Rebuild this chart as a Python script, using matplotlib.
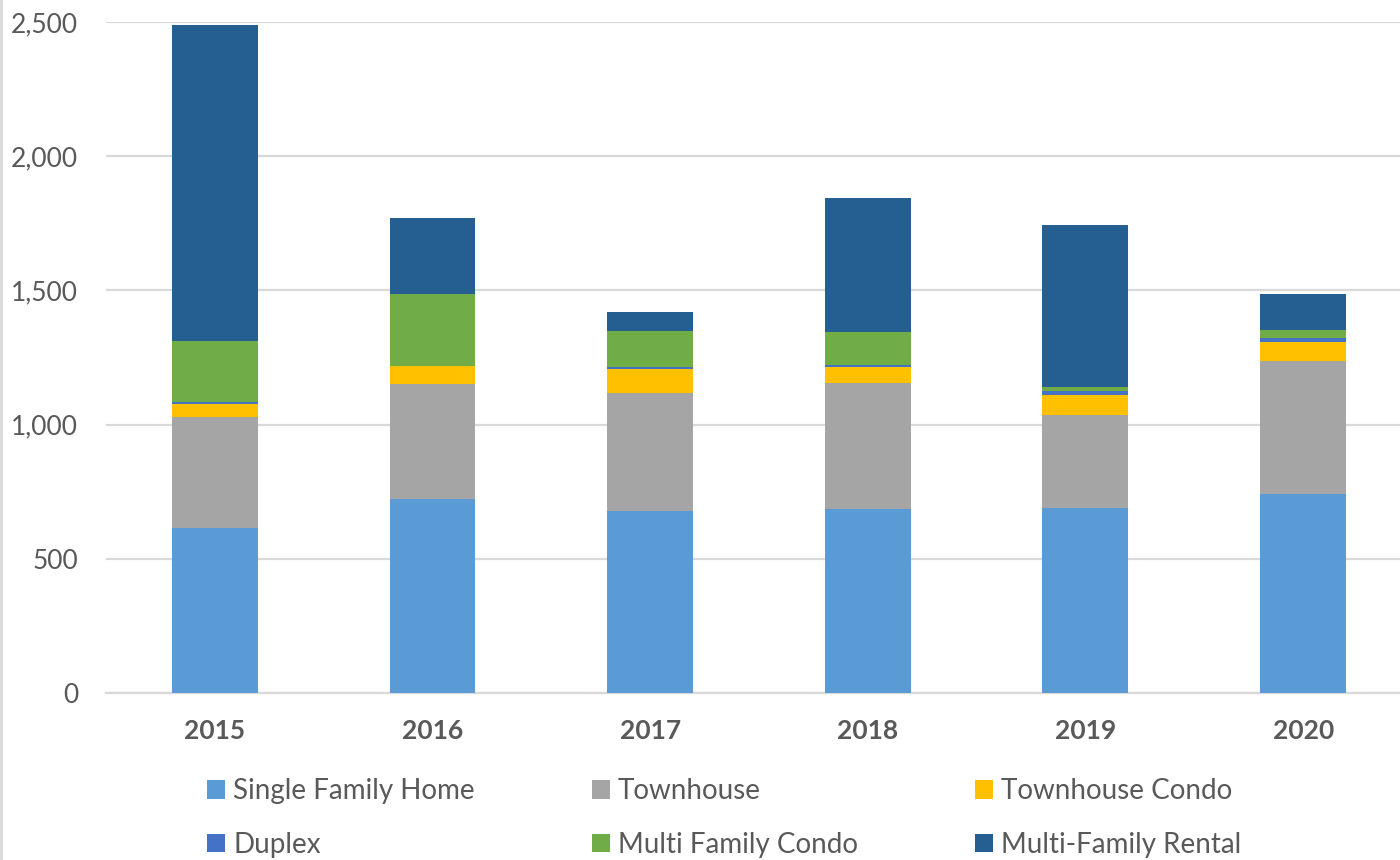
import numpy as np
import matplotlib.pyplot as plt

years = ["2015", "2016", "2017", "2018", "2019", "2020"]

single_family = [615, 721, 679, 686, 691, 740]
townhouse = [415, 429, 437, 468, 344, 496]
townhouse_condo = [47, 70, 91, 61, 76, 70]
duplex = [6, 0, 6, 8, 15, 15]
multi_condo = [228, 268, 136, 123, 14, 33]
multi_rental = [1177, 281, 71, 497, 605, 134]

series = [
    ("Single Family Home", single_family, "#5B9BD5"),
    ("Townhouse", townhouse, "#A5A5A5"),
    ("Townhouse Condo", townhouse_condo, "#FFC000"),
    ("Duplex", duplex, "#4472C4"),
    ("Multi Family Condo", multi_condo, "#70AD47"),
    ("Multi-Family Rental", multi_rental, "#255E91"),
]

plt.rcParams['font.family'] = ['Lato', 'DejaVu Sans']

fig = plt.figure(figsize=(14, 8.6), dpi=100)
ax = fig.add_axes([106 / 1400, 1 - 693 / 860, 1 - 106 / 1400, (693 - 22) / 860])

x = np.arange(len(years))
bottom = np.zeros(len(years))
handles = {}
for name, vals, col in series:
    vals = np.array(vals, dtype=float)
    b = ax.bar(x, vals, 0.395, bottom=bottom, color=col, label=name, zorder=3)
    handles[name] = b
    bottom += vals

ax.set_xlim(-0.5, 5.445)
ax.set_ylim(0, 2500)
ax.set_yticks([0, 500, 1000, 1500, 2000, 2500])
ax.set_yticklabels(["0", "500", "1,000", "1,500", "2,000", "2,500"])
ax.set_xticks(x)
ax.set_xticklabels(years, fontweight="bold")
ax.tick_params(axis="both", length=0, labelsize=19, labelcolor="#595959")
ax.tick_params(axis="y", pad=20)
ax.tick_params(axis="x", pad=19)
ax.grid(axis="y", color="#D9D9D9", linewidth=1.6, zorder=0)
for s in ["top", "right", "left"]:
    ax.spines[s].set_visible(False)
ax.spines["bottom"].set_color("#D9D9D9")
ax.spines["bottom"].set_linewidth(1.6)

# legend filled row by row
order = ["Single Family Home", "Duplex", "Townhouse", "Multi Family Condo",
         "Townhouse Condo", "Multi-Family Rental"]
fig.legend([handles[n] for n in order], order, ncol=3, loc="center left",
           bbox_to_anchor=(182 / 1400, 1 - 818 / 860), frameon=False,
           fontsize=20, labelcolor="#595959", handlelength=0.65, handleheight=0.65,
           handletextpad=0.3, columnspacing=4.2, labelspacing=1.0)

# thin outer border on the left
fig.add_artist(plt.Line2D([0.001, 0.001], [0, 1], color="#D9D9D9", linewidth=2))

fig.savefig("out.png", dpi=100, facecolor="white")
